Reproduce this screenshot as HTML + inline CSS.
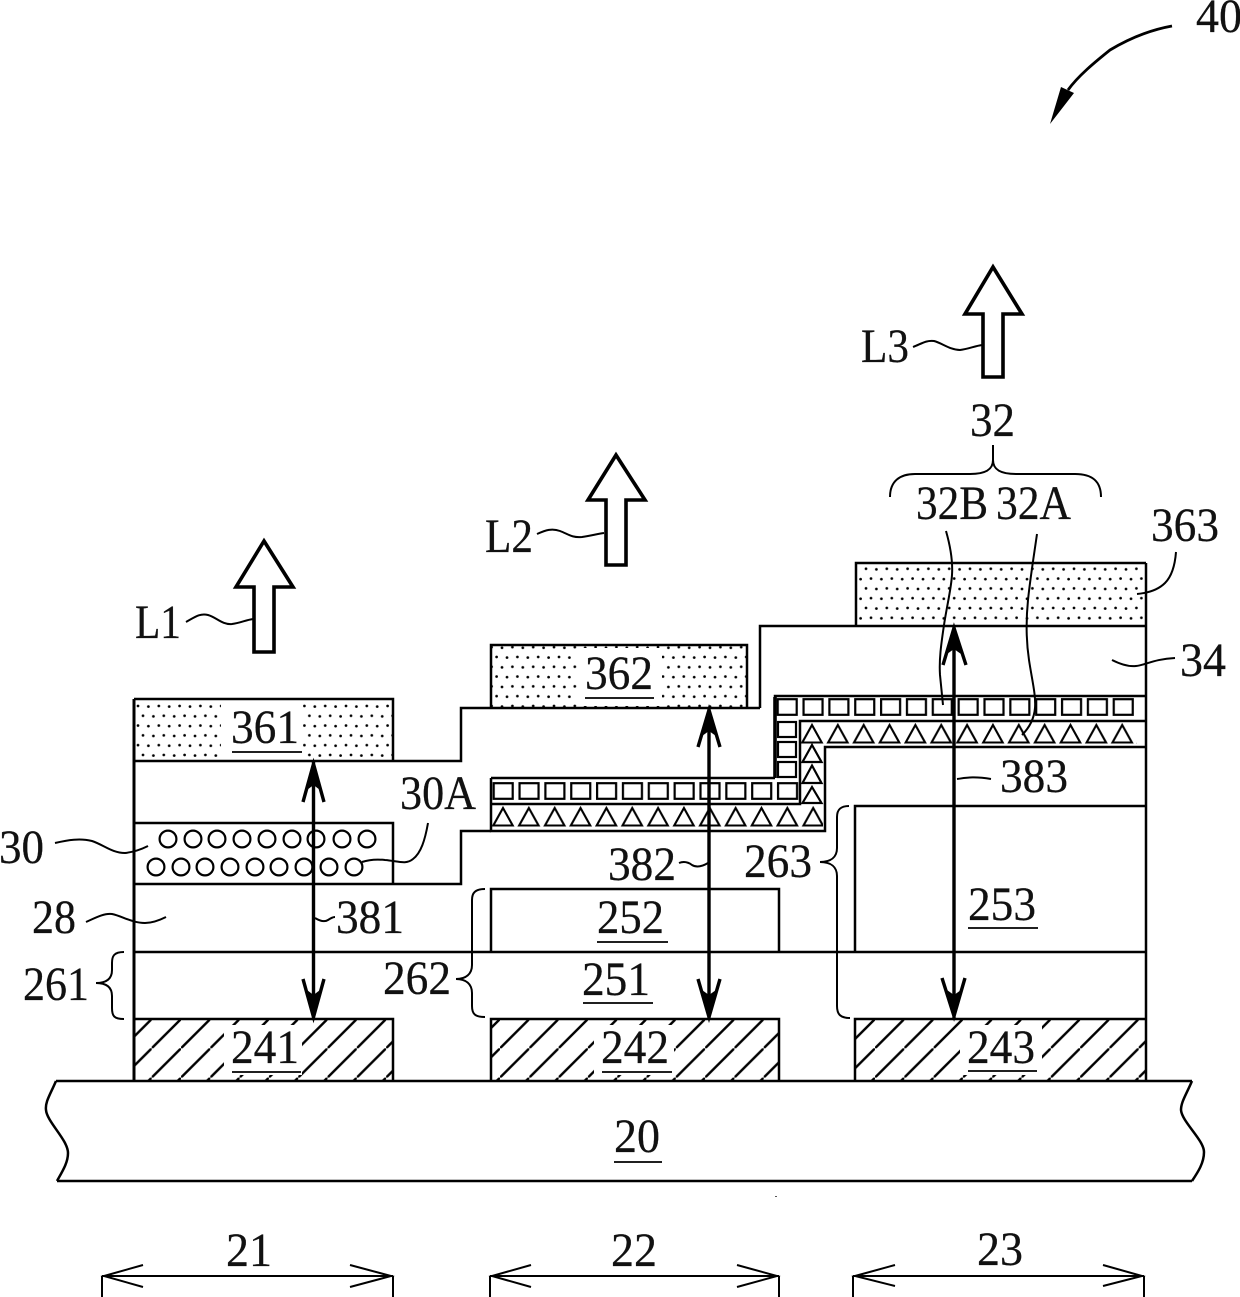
<!DOCTYPE html>
<html><head><meta charset="utf-8"><style>
html,body{margin:0;padding:0;background:#fff}
svg{display:block}
text{font-family:"Liberation Serif",serif;font-size:48px;fill:#111;stroke:#111;stroke-width:.25}
.l{fill:none;stroke:#000;stroke-width:2.5}
.t{fill:none;stroke:#000;stroke-width:2}
.b{fill:#fff;stroke:#000;stroke-width:3.6;stroke-linejoin:miter}
.a{fill:none;stroke:#000;stroke-width:3.4}
</style></head><body>
<svg width="1240" height="1297" viewBox="0 0 1240 1297" xmlns="http://www.w3.org/2000/svg">
<defs>
<pattern id="dots" patternUnits="userSpaceOnUse" x="134" y="704" width="20.8" height="19.6">
<circle cx="4" cy="2" r="1.35" fill="#000"/><circle cx="14.4" cy="2.6" r="1.35" fill="#000"/>
<circle cx="9" cy="11.8" r="1.35" fill="#000"/><circle cx="19.4" cy="12.4" r="1.35" fill="#000"/>
</pattern>
<pattern id="h1" patternUnits="userSpaceOnUse" x="151.7" y="1019" width="29.3" height="29.3"><path d="M-2,31.3 L31.3,-2" stroke="#000" stroke-width="2.4"/></pattern>
<pattern id="h2" patternUnits="userSpaceOnUse" x="500" y="1019" width="29.3" height="29.3"><path d="M-2,31.3 L31.3,-2" stroke="#000" stroke-width="2.4"/></pattern>
<pattern id="h3" patternUnits="userSpaceOnUse" x="875" y="1019" width="29.3" height="29.3"><path d="M-2,31.3 L31.3,-2" stroke="#000" stroke-width="2.4"/></pattern>
<pattern id="sq1" patternUnits="userSpaceOnUse" x="490.1" y="782" width="25.85" height="18"><rect x="3.6" y="1.2" width="19" height="15.6" fill="none" stroke="#000" stroke-width="2.2"/></pattern>
<pattern id="sq2" patternUnits="userSpaceOnUse" x="774.1" y="698" width="25.85" height="18"><rect x="3.6" y="1.2" width="19" height="15.6" fill="none" stroke="#000" stroke-width="2.2"/></pattern>
<pattern id="tr1" patternUnits="userSpaceOnUse" x="490.1" y="806" width="25.85" height="22"><path d="M12.9,2 L22.6,19.5 L3.2,19.5 Z" fill="none" stroke="#000" stroke-width="2.1"/></pattern>
<pattern id="tr2" patternUnits="userSpaceOnUse" x="799.1" y="723" width="25.85" height="22"><path d="M12.9,2 L22.6,19.5 L3.2,19.5 Z" fill="none" stroke="#000" stroke-width="2.1"/></pattern>
</defs>
<rect width="1240" height="1297" fill="#fff"/>

<!-- dotted electrodes -->
<rect x="134" y="699" width="259" height="62" fill="url(#dots)"/>
<rect x="221" y="702" width="82" height="57" fill="#fff"/>
<rect x="491" y="645" width="256" height="63" fill="url(#dots)"/>
<rect x="578" y="648" width="84" height="58" fill="#fff"/>
<rect x="856" y="563" width="290" height="62" fill="url(#dots)"/>
<path class="l" d="M134,699 H393 V761 M491,708 V645 H747 V708 M856,625 V563 H1146"/>

<!-- hatch -->
<rect x="134" y="1019" width="259" height="62" fill="url(#h1)"/>
<rect x="224" y="1025" width="78" height="50" fill="#fff"/>
<rect x="491" y="1019" width="288" height="62" fill="url(#h2)"/>
<rect x="594" y="1025" width="80" height="50" fill="#fff"/>
<rect x="855" y="1019" width="291" height="62" fill="url(#h3)"/>
<rect x="960" y="1025" width="82" height="50" fill="#fff"/>
<path class="l" d="M134,1019 H393 V1081 M491,1081 V1019 H779 V1081 M855,1081 V1019 H1146"/>

<!-- structure -->
<path class="l" style="stroke-width:3" d="M134,699 V1081"/>
<path class="l" d="M1146,563 V1081"/>
<path class="l" d="M134,761 H461 V708 H747 M760,708 V626 H1146"/>
<path class="l" d="M747,708 H760"/>
<path class="l" d="M134,823 H393 V884 M134,884 H461 V831 H491"/>
<path class="l" d="M491,778 V831 H825 V747 H1146"/>
<path class="l" d="M491,778 H775 M775,778 V696 H1146"/>
<path class="l" style="stroke-width:3.6" d="M775,697 V778"/>
<path class="l" d="M491,804 H800 V721 H1146"/>
<path class="l" d="M134,952 H1146"/>
<path class="l" d="M491,952 V889 H779 V952"/>
<path class="l" d="M855,952 V806 H1146"/>

<!-- squares and triangles -->
<rect x="491" y="782" width="308" height="18" fill="url(#sq1)"/>
<rect x="776" y="698" width="361" height="18" fill="url(#sq2)"/>
<rect x="492" y="806" width="331" height="22" fill="url(#tr1)"/>
<rect x="801" y="723" width="336" height="22" fill="url(#tr2)"/>
<g fill="none" stroke="#000" stroke-width="2.2">
<rect x="778" y="722" width="18" height="15"/>
<rect x="778" y="742" width="18" height="15"/>
<rect x="778" y="762" width="18" height="15"/>
<path d="M812,745 L821.5,762 H802.5 Z"/>
<path d="M812,765.5 L821.5,783 H802.5 Z"/>
<path d="M812,787 L821.5,803 H802.5 Z"/>
</g>

<!-- circles -->
<g fill="none" stroke="#000" stroke-width="2.2">
<circle cx="168" cy="839" r="8.4"/><circle cx="193" cy="839" r="8.4"/><circle cx="217" cy="839" r="8.4"/><circle cx="242" cy="839" r="8.4"/><circle cx="267" cy="839" r="8.4"/><circle cx="292" cy="839" r="8.4"/><circle cx="316" cy="839" r="8.4"/><circle cx="342" cy="839" r="8.4"/><circle cx="367" cy="839" r="8.4"/>
<circle cx="156" cy="867" r="8.4"/><circle cx="181" cy="867" r="8.4"/><circle cx="205" cy="867" r="8.4"/><circle cx="230" cy="867" r="8.4"/><circle cx="255" cy="867" r="8.4"/><circle cx="279" cy="867" r="8.4"/><circle cx="304" cy="867" r="8.4"/><circle cx="329" cy="867" r="8.4"/><circle cx="354" cy="867" r="8.4"/>
</g>

<!-- substrate -->
<path class="l" d="M56,1081 H1192 M57,1181 H1192"/>
<path class="l" d="M56,1081 C50,1095 45,1102 46,1110 C47,1122 68,1140 68,1153 C68,1163 62,1172 57,1181"/>
<path class="l" d="M1192,1081 C1186,1095 1181,1102 1181,1110 C1182,1122 1204,1140 1204,1152 C1204,1163 1198,1172 1192,1181"/>

<!-- double arrows -->
<path class="a" d="M313.5,762 V1019 M303,802 L313.5,764 L324,802 M303,979 L313.5,1017 L324,979"/>
<path d="M313.5,761 L307,790 L313.5,785 L320,790 Z M313.5,1019 L307,990 L313.5,995 L320,990 Z" fill="#000"/>
<path class="a" d="M709,708 V1019 M698,747 L709,710 L720,747 M698,979 L709,1017 L720,979"/>
<path d="M709,707 L702,736 L709,731 L716,736 Z M709,1019 L702,990 L709,995 L716,990 Z" fill="#000"/>
<path class="a" d="M954,626 V1019 M943,665 L954,628 L966,665 M942,978 L954,1016 L965,978"/>
<path d="M954,625 L947,654 L954,649 L961,654 Z M954,1019 L947,990 L954,995 L961,990 Z" fill="#000"/>

<!-- light arrows -->
<path class="b" d="M264,541 L293,587 H274 V652 H254 V587 H236 Z"/>
<path class="b" d="M616,455 L645,500 H626 V565 H606 V500 H588 Z"/>
<path class="b" d="M993,267 L1022,314 H1003 V377 H983 V314 H965 Z"/>

<!-- 40 arrow -->
<path class="l" style="stroke-width:2.8" d="M1172,26 C1150,30 1130,38 1110,50 C1095,62 1078,76 1068,90"/>
<path d="M1061,87 L1074,93 L1050,124 Z" fill="#000"/>

<!-- leaders -->
<g class="t">
<path class="t" d="M186,622 C195,617 200,613 208,615 C216,617 222,625 232,624 C240,623 246,620 253,619"/>
<path class="t" d="M537,534 C546,530 552,528 560,531 C568,534 572,538 582,537 C590,536 597,534 604,533"/>
<path class="t" d="M913,347 C921,344 926,340 934,341 C942,343 950,350 960,350 C968,349 975,346 982,345"/>
<path class="t" d="M55,843 C68,840 80,838 92,841 C104,845 112,853 125,853 C134,852 142,849 148,846"/>
<path class="t" d="M86,922 C95,918 104,913 112,914 C122,916 132,923 145,923 C153,923 160,920 166,917"/>
<path class="t" d="M315,918 C320,921 325,922 328,920 C331,918 333,917 335,917"/>
<path class="t" d="M679,863 C684,861 688,862 692,865 C697,868 703,866 708,863"/>
<path class="t" d="M957,779 C965,778 973,776 991,779"/>
<path class="t" d="M1112,660 C1120,664 1128,667 1136,666 C1146,665 1154,659 1175,658"/>
<path class="t" d="M1176,552 C1175,565 1172,576 1165,583 C1158,590 1148,593 1137,594"/>
<path class="t" d="M428,823 C425,840 421,853 413,859 C406,865 398,861 385,860 C376,859 368,860 362,862"/>
<path class="t" d="M946,531 C950,545 953,560 952,575 C951,590 947,605 944,625 C941,645 939,660 940,675 C941,685 942,695 943,705"/>
<path class="t" d="M1037,534 C1034,555 1030,580 1028,600 C1026,620 1026,640 1029,660 C1032,680 1036,695 1035,708 C1034,720 1028,729 1022,735"/>
<!-- braces -->
<path class="t" d="M124,952 C114,952 112,956 112,963 L112,970 C112,979 106,983 96,983 C106,983 112,987 112,996 L112,1008 C112,1016 114,1019 124,1019"/>
<path class="t" d="M485,889 C475,889 472,893 472,900 L472,965 C472,974 466,979 456,979 C466,979 472,984 472,993 L472,1006 C472,1014 475,1017 485,1017"/>
<path class="t" d="M849,806 C840,806 837,810 837,817 L837,848 C837,857 831,862 820,862 C831,862 837,867 837,876 L837,1006 C837,1014 840,1018 850,1018"/>
<path class="t" d="M890,497 C890,481 900,474 915,474 L970,474 C985,474 993,470 993,460 L993,445 M993,460 C993,470 1001,474 1016,474 L1075,474 C1092,474 1101,481 1101,497"/>
</g>

<!-- dimensions -->
<g class="t">
<path class="t" d="M102,1276 H393 M102,1276 V1297 M393,1276 V1297 M143,1265 L104,1276 L143,1287 M350,1265 L391,1276 L350,1287"/>
<path class="t" d="M490,1276 H779 M490,1276 V1297 M779,1276 V1297 M531,1265 L492,1276 L531,1287 M737,1265 L777,1276 L737,1287"/>
<path class="t" d="M853,1276 H1144 M853,1276 V1297 M1144,1276 V1297 M895,1265 L855,1276 L895,1286 M1103,1265 L1142,1276 L1103,1286"/>
</g>
<rect x="775" y="1196" width="2" height="1" fill="#555"/>

<!-- underlines -->
<path fill="none" stroke="#000" stroke-width="1.8" d="M232,752 H302 M585,698 H654 M232,1072 H301 M602,1072 H672 M968,1071 H1037 M597,942 H668 M583,1003 H653 M968,928 H1038 M614,1162 H662"/>

<!-- labels -->
<text x="231" y="743" textLength="68" lengthAdjust="spacingAndGlyphs">361</text>
<text x="585" y="689" textLength="68" lengthAdjust="spacingAndGlyphs">362</text>
<text x="1151" y="541" textLength="68" lengthAdjust="spacingAndGlyphs">363</text>
<text x="400" y="809" textLength="76" lengthAdjust="spacingAndGlyphs">30A</text>
<text x="-1" y="863" textLength="45" lengthAdjust="spacingAndGlyphs">30</text>
<text x="32" y="933" textLength="44" lengthAdjust="spacingAndGlyphs">28</text>
<text x="23" y="1000" textLength="66" lengthAdjust="spacingAndGlyphs">261</text>
<text x="336" y="933" textLength="68" lengthAdjust="spacingAndGlyphs">381</text>
<text x="383" y="994" textLength="68" lengthAdjust="spacingAndGlyphs">262</text>
<text x="582" y="995" textLength="68" lengthAdjust="spacingAndGlyphs">251</text>
<text x="597" y="933" textLength="67" lengthAdjust="spacingAndGlyphs">252</text>
<text x="968" y="920" textLength="68" lengthAdjust="spacingAndGlyphs">253</text>
<text x="231" y="1063" textLength="68" lengthAdjust="spacingAndGlyphs">241</text>
<text x="601" y="1063" textLength="68" lengthAdjust="spacingAndGlyphs">242</text>
<text x="967" y="1063" textLength="68" lengthAdjust="spacingAndGlyphs">243</text>
<text x="614" y="1152" textLength="46" lengthAdjust="spacingAndGlyphs">20</text>
<text x="226" y="1266" textLength="46" lengthAdjust="spacingAndGlyphs">21</text>
<text x="611" y="1266" textLength="46" lengthAdjust="spacingAndGlyphs">22</text>
<text x="977" y="1265" textLength="46" lengthAdjust="spacingAndGlyphs">23</text>
<text x="608" y="880" textLength="68" lengthAdjust="spacingAndGlyphs">382</text>
<text x="744" y="877" textLength="68" lengthAdjust="spacingAndGlyphs">263</text>
<text x="1000" y="792" textLength="68" lengthAdjust="spacingAndGlyphs">383</text>
<text x="1180" y="676" textLength="46" lengthAdjust="spacingAndGlyphs">34</text>
<text x="135" y="638" textLength="46" lengthAdjust="spacingAndGlyphs">L1</text>
<text x="485" y="552" textLength="48" lengthAdjust="spacingAndGlyphs">L2</text>
<text x="861" y="362" textLength="48" lengthAdjust="spacingAndGlyphs">L3</text>
<text x="970" y="436" textLength="45" lengthAdjust="spacingAndGlyphs">32</text>
<text x="916" y="519" textLength="72" lengthAdjust="spacingAndGlyphs">32B</text>
<text x="996" y="519" textLength="75" lengthAdjust="spacingAndGlyphs">32A</text>
<text x="1196" y="32" textLength="46" lengthAdjust="spacingAndGlyphs">40</text>
</svg>
</body></html>
